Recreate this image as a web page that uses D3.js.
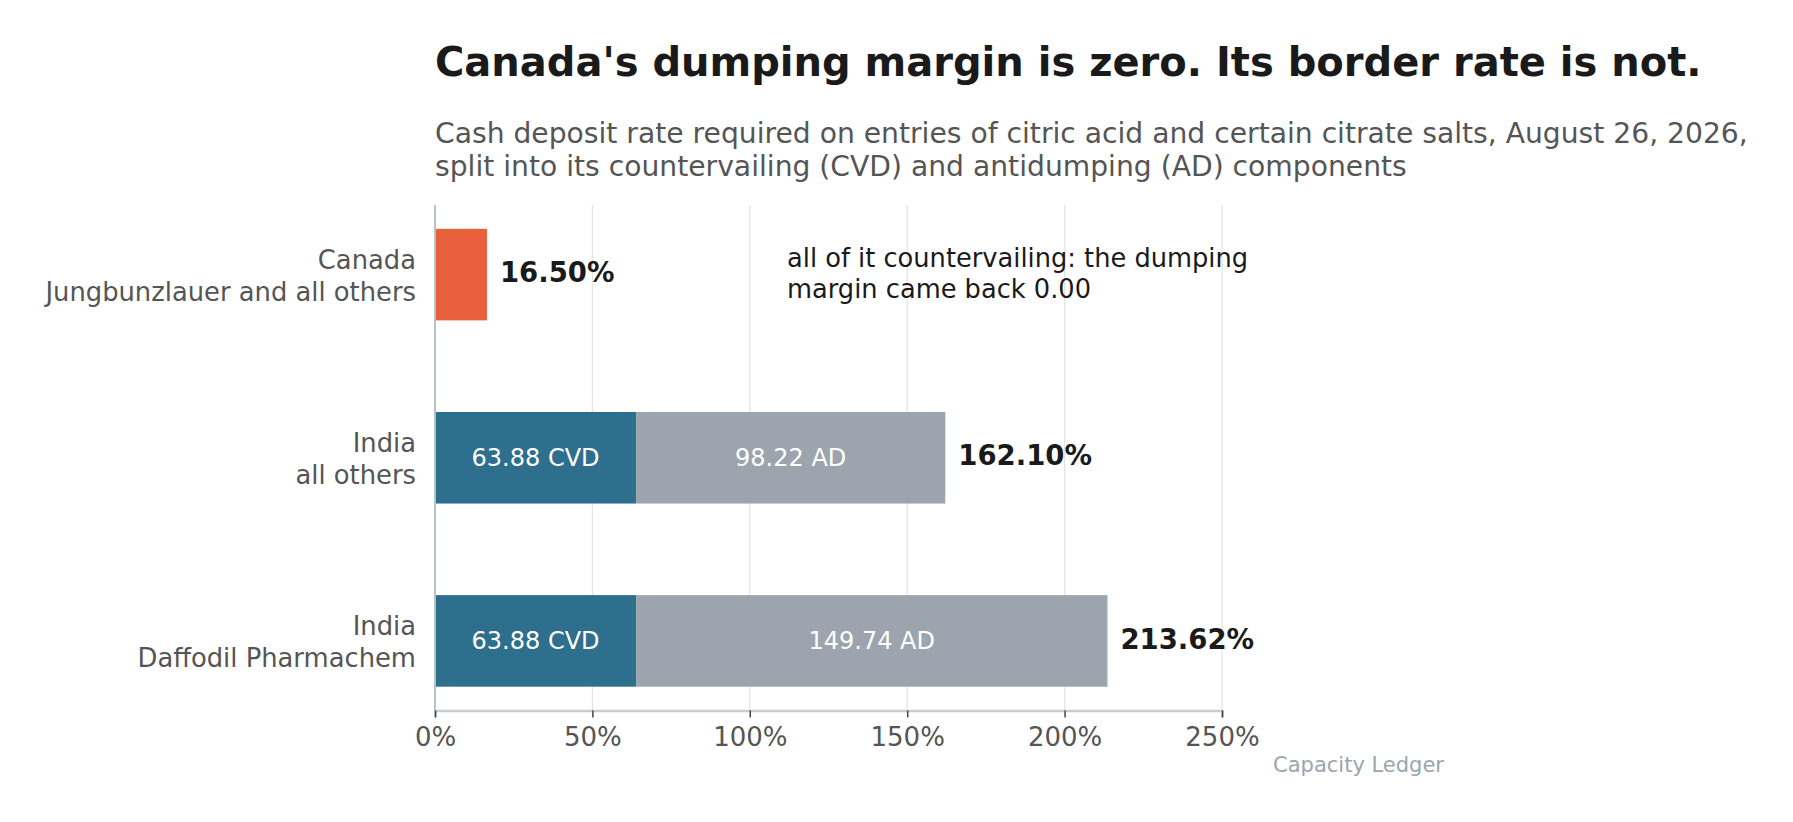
<!DOCTYPE html>
<html>
<head>
<meta charset="utf-8">
<script src="https://cdn.jsdelivr.net/npm/d3@7"></script>
<style>
  html, body { margin: 0; padding: 0; background: #fff; }
  text { font-family: "DejaVu Sans", Verdana, sans-serif; }
</style>
</head>
<body>
<script>
// data
const countries = ["Canada", "India", "India"];
const companies = ["Jungbunzlauer and all others", "all others", "Daffodil Pharmachem"];
const cvdRates = [16.50, 63.88, 63.88];
const adRates = [0, 98.22, 149.74];
const totalRates = [16.50, 162.10, 213.62];
const xTicks = [0, 50, 100, 150, 200, 250];

const width = 1793, height = 822;
const margin = { left: 435, right: 1222, top: 205, bottom: 710.5 };

const svg = d3.select("body").append("svg")
    .attr("width", width)
    .attr("height", height);

const x = d3.scaleLinear().domain([0, 250]).range([margin.left, margin.right]);
const y = d3.scaleBand()
    .domain(d3.range(countries.length))
    .range([margin.top, margin.bottom])
    .paddingInner(0.5)
    .paddingOuter(0.13);

// title + subtitle
svg.append("text")
    .attr("x", margin.left).attr("y", 76)
    .attr("font-size", 40).attr("font-weight", "bold").attr("fill", "#1a1a1a")
    .text("Canada's dumping margin is zero. Its border rate is not.");

const sub = svg.append("text")
    .attr("x", margin.left).attr("y", 142.5)
    .attr("font-size", 28.2).attr("fill", "#555");
sub.append("tspan").attr("x", margin.left)
    .text("Cash deposit rate required on entries of citric acid and certain citrate salts, August 26, 2026,");
sub.append("tspan").attr("x", margin.left).attr("dy", 33)
    .text("split into its countervailing (CVD) and antidumping (AD) components");

// gridlines
svg.append("g")
    .selectAll("line")
    .data(xTicks.slice(1))
    .join("line")
    .attr("x1", d => x(d)).attr("x2", d => x(d))
    .attr("y1", margin.top).attr("y2", margin.bottom)
    .attr("stroke", "#e3e3e3").attr("stroke-width", 1.2);

// bars
const rowG = svg.append("g")
    .selectAll("g")
    .data(d3.range(countries.length))
    .join("g");

rowG.append("rect")
    .attr("x", x(0))
    .attr("y", i => y(i))
    .attr("width", i => x(cvdRates[i]) - x(0))
    .attr("height", y.bandwidth())
    .attr("fill", i => countries[i] === "Canada" ? "#e8603c" : "#2e6f8e");

rowG.filter(i => adRates[i] > 0).append("rect")
    .attr("x", i => x(cvdRates[i]))
    .attr("y", i => y(i))
    .attr("width", i => x(cvdRates[i] + adRates[i]) - x(cvdRates[i]))
    .attr("height", y.bandwidth())
    .attr("fill", "#9ca5ad");

// segment labels
rowG.filter(i => adRates[i] > 0).append("text")
    .attr("x", i => x(cvdRates[i] / 2))
    .attr("y", i => y(i) + y.bandwidth() / 2)
    .attr("dy", "0.33em")
    .attr("text-anchor", "middle")
    .attr("font-size", 24).attr("fill", "#fff")
    .text(i => cvdRates[i].toFixed(2) + " CVD");

rowG.filter(i => adRates[i] > 0).append("text")
    .attr("x", i => x(cvdRates[i] + adRates[i] / 2))
    .attr("y", i => y(i) + y.bandwidth() / 2)
    .attr("dy", "0.33em")
    .attr("text-anchor", "middle")
    .attr("font-size", 24).attr("fill", "#fff")
    .text(i => adRates[i].toFixed(2) + " AD");

// totals
rowG.append("text")
    .attr("x", i => x(totalRates[i]) + 13)
    .attr("y", i => y(i) + y.bandwidth() / 2)
    .attr("dy", "0.28em")
    .attr("font-size", 27.5).attr("font-weight", "bold").attr("fill", "#1a1a1a")
    .text(i => totalRates[i].toFixed(2) + "%");

// category labels (two lines)
const yLab = rowG.append("text")
    .attr("text-anchor", "end")
    .attr("font-size", 25.8).attr("fill", "#555");
yLab.append("tspan")
    .attr("x", 416)
    .attr("y", i => y(i) + y.bandwidth() / 2 - 15)
    .attr("dy", "0.36em")
    .text(i => countries[i]);
yLab.append("tspan")
    .attr("x", 416)
    .attr("y", i => y(i) + y.bandwidth() / 2 + 17)
    .attr("dy", "0.36em")
    .text(i => companies[i]);

// left spine
svg.append("line")
    .attr("x1", x(0)).attr("x2", x(0))
    .attr("y1", margin.top).attr("y2", margin.bottom)
    .attr("stroke", "#b8c1ca").attr("stroke-width", 2);

// bottom axis
const xAxis = svg.append("g")
    .attr("transform", `translate(0,${margin.bottom})`)
    .call(d3.axisBottom(x).tickValues(xTicks).tickFormat(d => d + "%").tickSize(7).tickPadding(10));
xAxis.select(".domain").attr("stroke", "#c3cbd3").attr("stroke-width", 2.5);
xAxis.selectAll(".tick line").attr("stroke", "#444").attr("stroke-width", 1.5);
xAxis.selectAll(".tick text")
    .attr("font-family", "DejaVu Sans, sans-serif")
    .attr("font-size", 26).attr("fill", "#555");

// annotation
const note = svg.append("text")
    .attr("x", 787).attr("y", y(0) + y.bandwidth() / 2 - 8)
    .attr("font-size", 25.7).attr("fill", "#1a1a1a");
note.append("tspan").attr("x", 787).attr("dy", "0.0em")
    .text("all of it countervailing: the dumping");
note.append("tspan").attr("x", 787).attr("dy", 31)
    .text("margin came back 0.00");

// source
svg.append("text")
    .attr("x", 1444).attr("y", 772)
    .attr("text-anchor", "end")
    .attr("font-size", 21).attr("fill", "#9aa5b0")
    .text("Capacity Ledger");
</script>
</body>
</html>
